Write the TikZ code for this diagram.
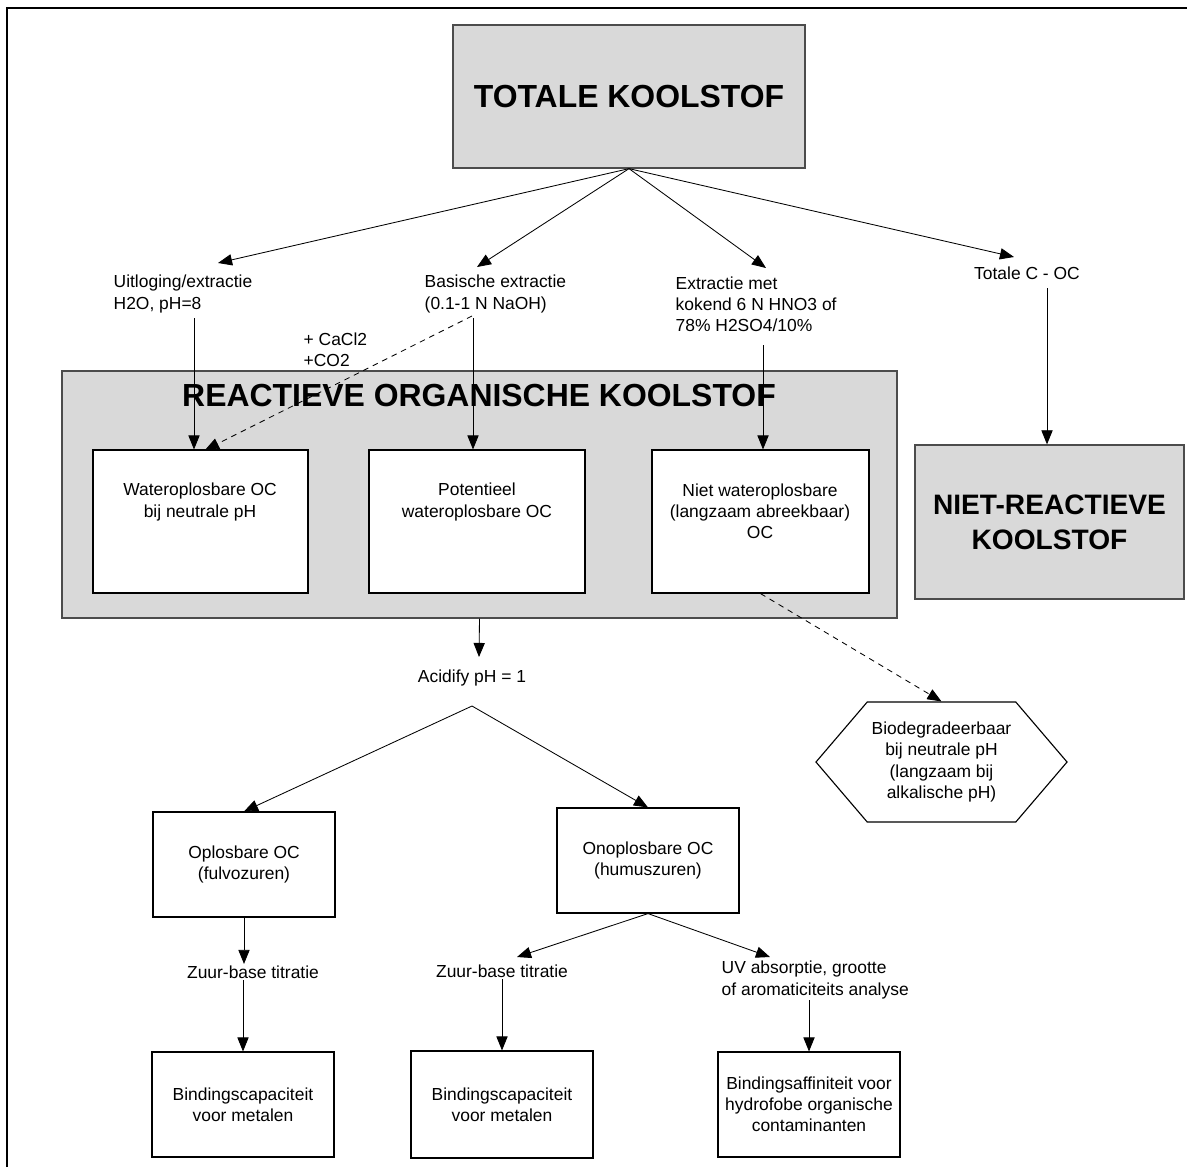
\documentclass[tikz,border=0pt]{standalone}
\usepackage{fontspec}
\setmainfont{Liberation Sans}
\usetikzlibrary{shapes,arrows.meta,fit}

\begin{document}
\begin{tikzpicture}
		[
		x = 0.025cm, y = -0.025cm,
		every node/.style = {font = \fontsize{12.4}{15}\selectfont},
		lbl/.style = {inner sep = 1pt, align = left, anchor = west},
		ctr/.style = {inner sep = 1pt, align = center},
		box/.style = {draw, fill = white, line width = 0.8pt, inner sep = 0pt},
		greybox/.style = {draw = black!70, fill = black!15, line width = 0.9pt, inner sep = 0pt},
		big/.style = {font = \fontsize{22.7}{27}\selectfont\bfseries},
		mid/.style = {font = \fontsize{20}{24.8}\selectfont\bfseries, align = center},
		arr/.style = {line width = 0.6pt, -{Triangle[length = 10pt, width = 8pt]}},
		dasharr/.style = {arr, dash pattern = on 4pt off 3.5pt}
		]
		
		\useasboundingbox (0,0) rectangle (1187,1167);
		\draw[line width = 2pt] (7,1167) -- (7,8) -- (1187,8);
		
		\node[greybox, fit = {(453,25) (805,168)}, label = {[big]center:TOTALE KOOLSTOF}] (tot) {};
		
		\node[lbl] (uitl) at (112,294) {Uitloging/extractie\\H2O, pH=8};
		\node[lbl] (basis) at (423,294) {Basische extractie\\(0.1-1 N NaOH)};
		\node[lbl] (extr) at (674,304) {Extractie met\\kokend 6 N HNO3 of\\78\% H2SO4/10\%};
		\node[ctr] (totc) at (1027,273) {Totale C - OC};
		\node[lbl] (cacl) at (302,350) {+ CaCl2\\+CO2};
		
		\coordinate (t1) at (218,263);
		\coordinate (t2) at (477,267);
		\coordinate (t3) at (766,268);
		\coordinate (t4) at (1014,257);
		\foreach \t in {t1,t2,t3,t4}
			\draw[arr] (tot.south) -- (\t);
		
		\node[greybox, fit = {(62,371) (897,618)}] (rbox) {};
		\node[big] (rtitle) at (479,395) {REACTIEVE ORGANISCHE KOOLSTOF};
		\node[box, fit = {(93,450) (308,593)}] (wbox) {};
		\node[box, fit = {(369,450) (585,593)}] (pbox) {};
		\node[box, fit = {(652,450) (869,593)}] (nbox) {};
		\node[ctr] (wtxt) at (200,502) {Wateroplosbare OC\\bij neutrale pH};
		\node[ctr] (ptxt) at (477,502) {Potentieel\\wateroplosbare OC};
		\node[ctr] (ntxt) at (760,511) {Niet wateroplosbare\\(langzaam abreekbaar)\\OC};
		
		\node[greybox, fit = {(915,445) (1184,599)}, label = {[mid]center:{NIET-REACTIEVE\\KOOLSTOF}}] (nrbox) {};
		
		\coordinate (u0) at (194,318);
		\coordinate (b0) at (472,316);
		\coordinate (b1) at (473,318);
		\coordinate (e0) at (763,345);
		\coordinate (c0) at (1047,288);
		\coordinate (w1) at (205,450);
		\draw[arr] (u0) -- (u0 |- wbox.north);
		\draw[dasharr] (b0) -- (w1);
		\draw[arr] (b1) -- (b1 |- pbox.north);
		\draw[arr] (e0) -- (e0 |- nbox.north);
		\draw[arr] (c0) -- (c0 |- nrbox.north);
		
		\node[draw, line width = 0.8pt, shape = signal, signal to = west and east, signal pointer angle = 99,
			minimum width = 6.275cm, minimum height = 3cm, inner sep = 0pt, align = center]
			(bio) at (941.5,762) {Biodegradeerbaar\\bij neutrale pH\\(langzaam bij\\alkalische pH)};
		\draw[dasharr] (nbox.south) -- (bio.north);
		
		\node[ctr] (acid) at (472,678) {Acidify pH = 1};
		\coordinate (a1) at (479,657);
		\draw[arr] (rbox.south) -- (a1);
		
		\coordinate (split) at (472,706);
		\node[box, fit = {(153,812) (335,917)}, label = {[ctr]center:{Oplosbare OC\\(fulvozuren)}}] (opl) {};
		\node[box, fit = {(557,808) (739,913)}, label = {[ctr]center:{Onoplosbare OC\\(humuszuren)}}] (onopl) {};
		\draw[arr] (split) -- (opl.north);
		\draw[arr] (split) -- (onopl.north);
		
		\node[ctr] (zb1) at (253,972) {Zuur-base titratie};
		\node[ctr] (zb2) at (502,971) {Zuur-base titratie};
		\node[lbl] (uv) at (720,980) {UV absorptie, grootte\\of aromaticiteits analyse};
		\coordinate (z2) at (517,957);
		\coordinate (v2) at (770,957);
		\draw[arr] (opl.south) -- (opl.south |- zb1.north);
		\draw[arr] (onopl.south) -- (z2);
		\draw[arr] (onopl.south) -- (v2);
		
		\node[box, fit = {(152,1052) (334,1157)}, label = {[ctr]center:{Bindingscapaciteit\\voor metalen}}] (bc1) {};
		\node[box, fit = {(411,1051) (593,1158)}, label = {[ctr]center:{Bindingscapaciteit\\voor metalen}}] (bc2) {};
		\node[box, fit = {(718,1052) (900,1157)}, label = {[ctr]center:{Bindingsaffiniteit voor\\hydrofobe organische\\contaminanten}}] (baf) {};
		\draw[arr] (zb1.south -| bc1.north) -- (bc1.north);
		\draw[arr] (zb2.south) -- (bc2.north);
		\draw[arr] (uv.south -| baf.north) -- (baf.north);
		
\end{tikzpicture}
\end{document}
